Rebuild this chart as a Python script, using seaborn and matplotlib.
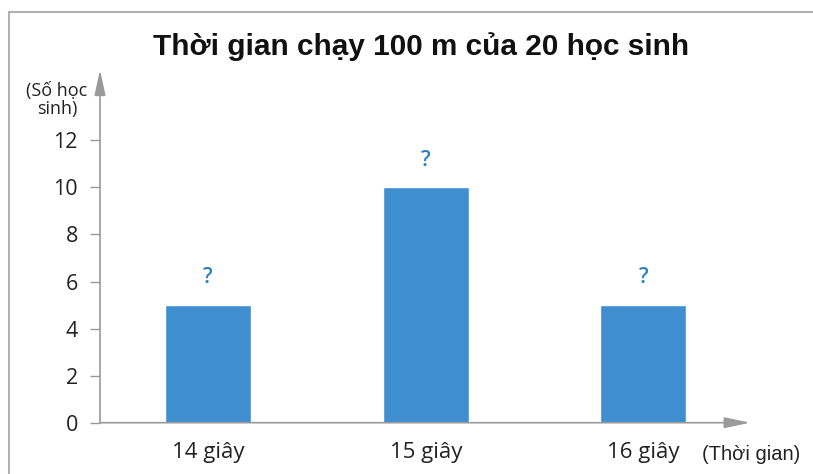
import matplotlib
matplotlib.use("Agg")
import matplotlib.pyplot as plt
from matplotlib.lines import Line2D
import seaborn as sns
import pandas as pd

# Running times of 20 students and the number of students in each group
categories = ["14 giây", "15 giây", "16 giây"]
counts = [5, 10, 5]
bar_labels = ["?", "?", "?"]
y_ticks = [0, 2, 4, 6, 8, 10, 12]

sns.set_theme(style="white")
plt.rcParams["font.family"] = ["Open Sans", "DejaVu Sans"]

W, H = 813, 474
fig = plt.figure(figsize=(W / 100, H / 100), dpi=100)
ax = fig.add_axes([100 / W, 51.3 / H, 650 / W, 353 / H])

df = pd.DataFrame({"time": categories, "count": counts})
sns.barplot(data=df, x="time", y="count", color="#3e8ed0", saturation=1,
            width=0.395, ax=ax)

ax.set_xlim(-0.497, 2.49)
ax.set_ylim(0, 15)
ax.set_yticks(y_ticks)
ax.set_yticklabels([str(t) for t in y_ticks], fontsize=15.5, color="#222222")
ax.set_xticks(range(len(categories)))
ax.set_xticklabels(categories, fontsize=16, color="#222222")
ax.tick_params(axis="y", length=7, width=1, color="#9a9a9a", pad=9, left=True)
ax.tick_params(axis="x", length=0, pad=14)
ax.set_xlabel("")
ax.set_ylabel("")

for s in ax.spines.values():
    s.set_visible(False)

# Axis arrows
axis_color = "#9a9a9a"
arrow = dict(arrowstyle="-|>,head_length=1.3,head_width=0.28",
             color=axis_color, lw=1.2, shrinkA=0, shrinkB=0)
ax.annotate("", xy=(1.0, 0), xytext=(0, 0), xycoords="axes fraction",
            arrowprops=arrow)
ax.annotate("", xy=(0, 1.0), xytext=(0, 0), xycoords="axes fraction",
            arrowprops=arrow)

# Unknown values marked above each bar
for i, (v, lab) in enumerate(zip(counts, bar_labels)):
    ax.annotate(lab, xy=(i, v), xytext=(0, 19.5), textcoords="offset points",
                ha="center", va="center", fontsize=15.5, fontweight="semibold",
                color="#2a82bd")

# Axis captions
fig.text(57 / W, 1 - 100 / H, "(Số học\nsinh)", ha="center", va="center",
         fontsize=13, color="#222222", linespacing=1.0)
fig.text(751 / W, 1 - 454 / H, "(Thời gian)", ha="center", va="center",
         fontsize=14.5, color="#222222", family=["Liberation Sans", "DejaVu Sans"])

# Title
fig.text(421 / W, 1 - 47 / H, "Thời gian chạy 100 m của 20 học sinh",
         ha="center", va="center", fontsize=21.4, fontweight="bold",
         family=["Liberation Sans", "DejaVu Sans"], color="#111111")

# Frame lines at top and left
fig.add_artist(Line2D([9 / W, 1.0], [1 - 12 / H, 1 - 12 / H],
                      transform=fig.transFigure, color="#b0b0b0", lw=1.5))
fig.add_artist(Line2D([9 / W, 9 / W], [0, 1 - 12 / H],
                      transform=fig.transFigure, color="#b0b0b0", lw=1.5))

fig.savefig("out.png", dpi=100)
